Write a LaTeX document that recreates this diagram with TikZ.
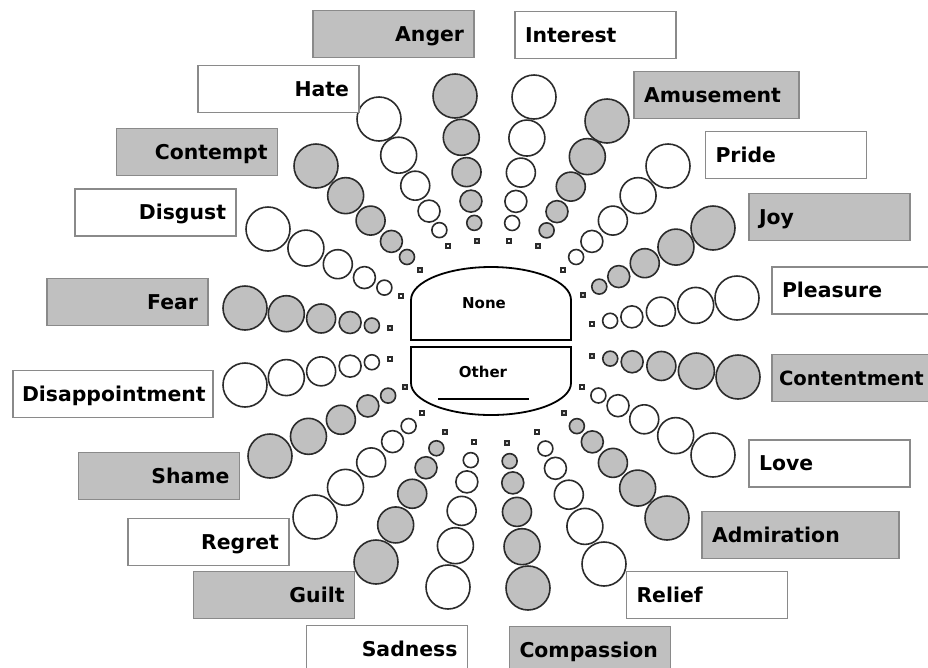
\documentclass[tikz,border=0pt]{standalone}
\usepackage{fontspec}
\setmainfont{DejaVu Sans}
\usetikzlibrary{calc}

\definecolor{wheelgray}{HTML}{C0C0C0}
\definecolor{rimcol}{HTML}{2B2B2B}
\definecolor{framecol}{HTML}{8A8A8A}

\begin{document}
\begin{tikzpicture}[x=1pt,y=-1pt,
  labelbox/.style={draw=framecol, line width=1.4pt, minimum height=47pt,
    inner xsep=10pt, inner ysep=0pt, text height=14.6pt, text depth=0pt,
    font=\fontsize{20.4}{24}\selectfont\bfseries},
  lgray/.style={labelbox, fill=wheelgray},
  lwhite/.style={labelbox, fill=white},
  tright/.style={text width=#1, align=right},
  tright/.default=141pt,
  tleft/.style={text width=#1, align=left},
  tleft/.default=141pt,
  bead/.style={draw=rimcol, line width=1.6pt},
  hub/.style={draw=black, line width=1.8pt, fill=white},
  hubtext/.style={font=\fontsize{15}{18}\selectfont\bfseries,
    text height=11pt, text depth=0pt, inner sep=0pt}
]
\useasboundingbox (0,0) rectangle (928,667);

% central answer fields
\draw[hub] (411,340) -- (411,300)
  arc[start angle=180, end angle=0, x radius=80pt, y radius=33pt]
  -- (571,340) -- cycle;
\draw[hub] (411,347) -- (571,347) -- (571,383)
  arc[start angle=0, end angle=-180, x radius=80pt, y radius=32pt]
  -- cycle;
\node[hubtext] (none) at (484,302.5) {None};
\node[hubtext] (other) at (483,372) {Other};
\draw[line width=1.5pt] ($(other.south)+(-45,21.5)$) -- ($(other.south)+(46,21.5)$);

% twenty spokes: small square, then five circles growing outwards
\foreach \sx/\sy/\bx/\by/\fc [count=\k] in {
   509/241/534/97/white,     538/246/607/121/wheelgray,
   563/270/668/166/white,    583/295/713/228/wheelgray,
   592/324/737/298/white,    592/356/738/377/wheelgray,
   582/387/713/455/white,    564/413/667/518/wheelgray,
   537/432/604/564/white,    507/443/528/588/wheelgray,
   474/442/448/587/white,    445/432/376/562/wheelgray,
   422/413/315/517/white,    405/387/270/456/wheelgray,
   390/359/245/385/white,    390/328/245/308/wheelgray,
   401/296/268/229/white,    420/270/316/166/wheelgray,
   448/246/379/119/white,    477/241/455/96/wheelgray}{
  \coordinate (s\k) at (\sx,\sy);
  \coordinate (b\k) at (\bx,\by);
  \draw[bead, line width=1.2pt, fill=\fc] ($(s\k)+(-2,-2)$) rectangle ($(s\k)+(2,2)$);
  \foreach \f/\r in {0.125/7.5, 0.275/11, 0.475/14.5, 0.715/18, 1/22}
    \draw[bead, fill=\fc] ($(s\k)!\f!(b\k)$) circle[radius=\r pt];
}

% labels on the left half
\node[lgray, tright]  (anger)    at (393.5,34)  {Anger};
\node[lwhite, tright] (hate)     at (278.5,89)  {Hate};
\node[lgray, tright]  (contempt) at (197,152)   {Contempt};
\node[lwhite, tright] (disgust)  at (155.5,212.5) {Disgust};
\node[lgray, tright]  (fear)     at (127.5,302) {Fear};
\node[lwhite, tright=182pt, inner xsep=9pt] (disappointment) at (113,394) {Disappointment};
\node[lgray, tright]  (shame)    at (159,476)   {Shame};
\node[lwhite, tright] (regret)   at (208.5,542) {Regret};
\node[lgray, tright]  (guilt)    at (274,595)   {Guilt};
\node[lwhite, tright] (sadness)  at (387,649)   {Sadness};

% labels on the right half
\node[lwhite, tleft]  (interest)    at (595.5,35)  {Interest};
\node[lgray, tleft=145pt] (amusement) at (716.5,95) {Amusement};
\node[lwhite, tleft]  (pride)       at (786,155)   {Pride};
\node[lgray, tleft]   (joy)         at (829.5,217) {Joy};
\node[lwhite, tleft=150pt] (pleasure)    at (857,290.5) {Pleasure};
\node[lgray, tleft=156pt, inner xsep=7pt,
      font=\fontsize{19.6}{24}\selectfont\bfseries] (contentment) at (857,378) {Contentment};
\node[lwhite, tleft]  (love)        at (829.5,463.5) {Love};
\node[lgray, tleft=177pt] (admiration) at (800.5,535) {Admiration};
\node[lwhite, tleft]  (relief)      at (707,595)   {Relief};
\node[lgray, tleft]   (compassion)  at (590,650)   {Compassion};
\end{tikzpicture}
\end{document}
